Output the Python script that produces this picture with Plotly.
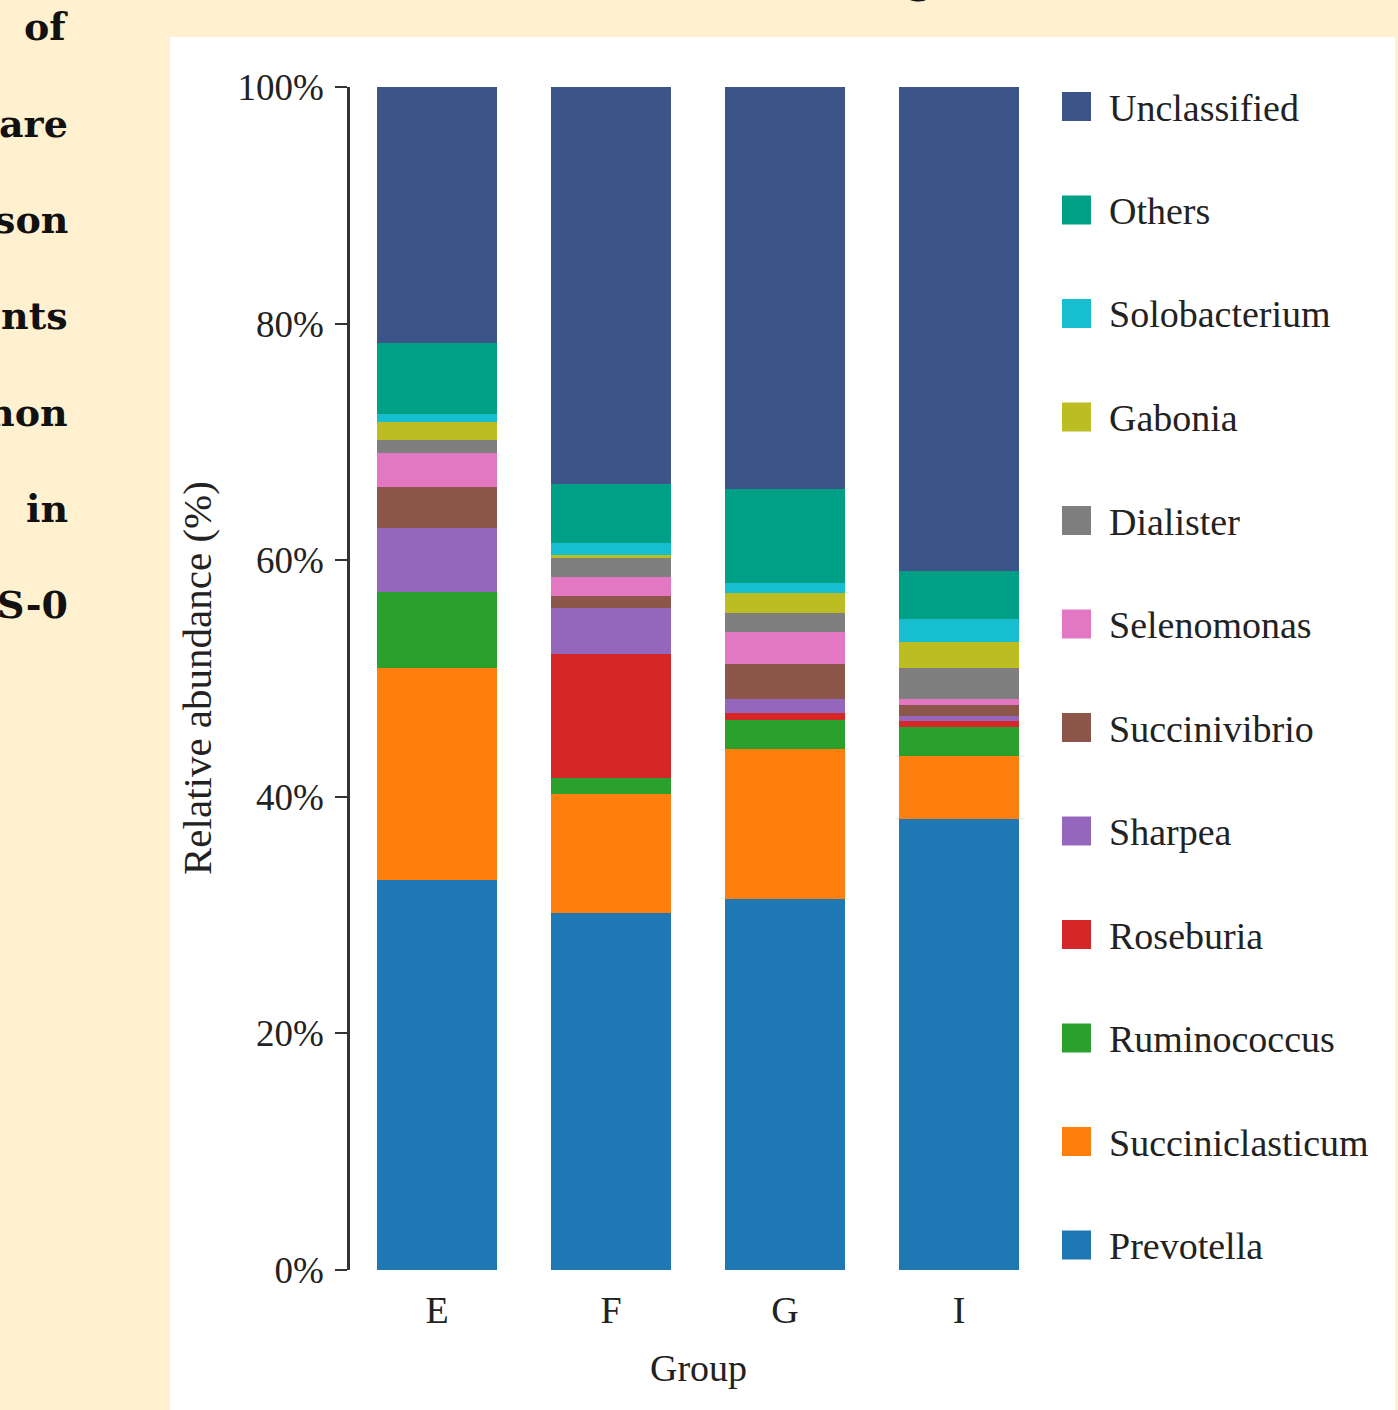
import plotly.graph_objects as go

# Relative abundance of the top genera per group (%)
groups = ["E", "F", "G", "I"]

genera = [
    "Prevotella", "Succiniclasticum", "Ruminococcus", "Roseburia", "Sharpea",
    "Succinivibrio", "Selenomonas", "Dialister", "Gabonia", "Solobacterium",
    "Others", "Unclassified",
]

prevotella = [33.0, 30.2, 31.4, 38.1]
succiniclasticum = [17.9, 10.0, 12.6, 5.35]
ruminococcus = [6.4, 1.35, 2.5, 2.45]
roseburia = [0.0, 10.5, 0.6, 0.5]
sharpea = [5.4, 3.9, 1.2, 0.4]
succinivibrio = [3.5, 1.0, 2.9, 1.0]
selenomonas = [2.9, 1.6, 2.7, 0.5]
dialister = [1.1, 1.6, 1.6, 2.6]
gabonia = [1.5, 0.3, 1.7, 2.2]
solobacterium = [0.7, 1.0, 0.9, 1.9]
others = [6.0, 5.0, 7.9, 4.1]
unclassified = [21.6, 33.55, 34.0, 40.9]

series = [
    prevotella, succiniclasticum, ruminococcus, roseburia, sharpea,
    succinivibrio, selenomonas, dialister, gabonia, solobacterium,
    others, unclassified,
]

colors = [
    "#1F77B4", "#FF7F0E", "#2CA02C", "#D62728", "#9467BD",
    "#8C564B", "#E377C2", "#7F7F7F", "#BCBD22", "#17BECF",
    "#00A087", "#3C5488",
]

y_ticks = [0, 20, 40, 60, 80, 100]
side_words = ["of", "are", "son", "nts", "non", "in", "S-0"]

W, H = 1398, 1410
CREAM = "#FFF1D0"
SERIF = "Liberation Serif, Times New Roman, serif"
BOLD_SERIF = "DejaVu Serif, serif"


def px_x(x):
    return x / W


def px_y(y):
    return 1 - y / H


fig = go.Figure()
for name, vals, col in zip(genera, series, colors):
    fig.add_trace(go.Bar(
        x=groups, y=vals, name=name,
        marker=dict(color=col, line=dict(width=0)),
        width=0.695, showlegend=False,
    ))

shapes = [
    # white card behind the chart
    dict(type="rect", xref="paper", yref="paper",
         x0=px_x(170), x1=px_x(1395), y0=0, y1=px_y(37),
         fillcolor="white", line=dict(width=0), layer="below"),
]
annotations = []

# legend: swatch + label, top entry is the last stacked series
for i, (name, col) in enumerate(zip(reversed(genera), reversed(colors))):
    yc = 106.5 + i * 103.5
    shapes.append(dict(type="rect", xref="paper", yref="paper",
                       x0=px_x(1062), x1=px_x(1091),
                       y0=px_y(yc + 14.5), y1=px_y(yc - 14.5),
                       fillcolor=col, line=dict(width=0)))
    annotations.append(dict(xref="paper", yref="paper", x=px_x(1107), y=px_y(yc + 1),
                            text=name, showarrow=False, xanchor="left", yanchor="middle",
                            font=dict(family=SERIF, size=38, color="#222222")))

# axis titles
annotations.append(dict(xref="paper", yref="paper", x=px_x(197), y=px_y(678),
                        text="Relative abundance (%)", textangle=-90, showarrow=False,
                        xanchor="center", yanchor="middle",
                        font=dict(family=SERIF, size=41, color="#222222")))
annotations.append(dict(xref="paper", yref="paper", x=px_x(698), y=px_y(1368),
                        text="Group", showarrow=False,
                        xanchor="center", yanchor="middle",
                        font=dict(family=SERIF, size=38, color="#222222")))

# surrounding page text
for i, word in enumerate(side_words):
    annotations.append(dict(xref="paper", yref="paper", x=px_x(70), y=px_y(27 + i * 96.3),
                            text="<b>%s</b>" % word, showarrow=False,
                            xanchor="right", yanchor="middle",
                            font=dict(family=BOLD_SERIF, size=38, color="#111111")))
annotations.append(dict(xref="paper", yref="paper", x=px_x(920), y=px_y(-20),
                        text="<b>g</b>", showarrow=False,
                        xanchor="center", yanchor="middle",
                        font=dict(family=BOLD_SERIF, size=38, color="#111111")))

fig.update_layout(
    width=W, height=H, autosize=False,
    barmode="stack", bargap=0,
    paper_bgcolor=CREAM, plot_bgcolor="rgba(0,0,0,0)",
    margin=dict(l=0, r=0, t=0, b=0, pad=0, autoexpand=False),
    shapes=shapes, annotations=annotations,
    font=dict(family=SERIF, color="#222222"),
    xaxis=dict(
        domain=[px_x(350), px_x(1046)], range=[-0.5, 3.5],
        showline=False, ticks="", showgrid=False, zeroline=False,
        tickfont=dict(family=SERIF, size=38, color="#222222"),
        ticklabelstandoff=14, automargin=False,
    ),
    yaxis=dict(
        domain=[px_y(1270), px_y(87)], range=[0, 100],
        showline=True, linecolor="#333333", linewidth=2.5,
        ticks="outside", ticklen=12, tickwidth=2, tickcolor="#333333",
        tickvals=y_ticks, ticktext=["%d%%" % v for v in y_ticks],
        showgrid=False, zeroline=False,
        tickfont=dict(family=SERIF, size=37, color="#222222"),
        ticklabelstandoff=4, automargin=False,
    ),
)

fig.write_html("out.html")
